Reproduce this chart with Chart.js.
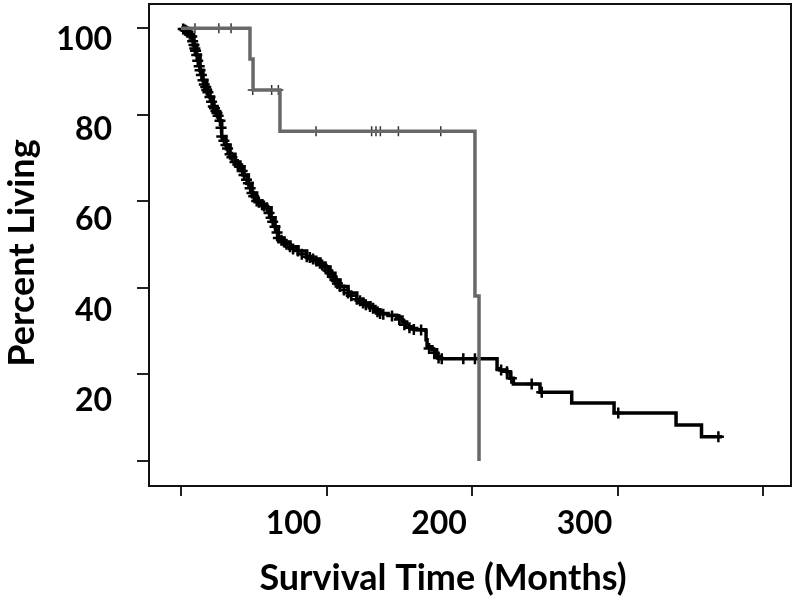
<!DOCTYPE html>
<html>
<head>
<meta charset="utf-8">
<style>
  html, body { margin: 0; padding: 0; background: #ffffff; }
  #wrap { width: 796px; height: 601px; }
</style>
<script src="https://cdn.jsdelivr.net/npm/chart.js@4.4.1/dist/chart.umd.min.js"></script>
</head>
<body>
<div id="wrap"><canvas id="c" width="796" height="601"></canvas></div>
<script>
// ---- Data (months, percent living) ----
const grayMonths  = [0, 47.4, 49.5, 68.0, 202.0, 204.8];
const grayPercent = [100, 92.9, 85.7, 76.2, 38.1, 0];

const grayCensorMonths  = [9.6, 26.0, 34.4, 49.3, 62.3, 66.9, 92.8, 131.0, 134.0, 137.0, 149.4, 178.5];
const grayCensorPercent = [100, 100, 100, 85.7, 85.7, 85.7, 76.2, 76.2, 76.2, 76.2, 76.2, 76.2];

const blackMonths = [0, 2.7, 5.0, 7.4, 8.9, 10.8, 13.1, 15.1, 17.7, 19.9,
  22.2, 24.7, 26.8, 28.0, 30.9, 33.7, 37.1, 40.5, 43.3, 46.3,
  48.8, 52.0, 55.7, 58.9, 61.9, 64.6, 66.9, 70.8, 74.9, 80.4,
  86.4, 90.7, 95.5, 99.0, 102.4, 105.8, 109.3, 114.8, 120.8, 125.1,
  129.9, 133.3, 136.8, 142.3, 148.2, 151.9, 155.1, 158.8, 162.0, 167.7,
  168.4, 169.1, 172.5, 175.7, 178.0, 217.2, 219.2, 223.9, 226.1, 228.4,
  246.7, 268.5, 297.6, 340.2, 357.7, 371.8];
const blackPercent = [100, 99.6, 99.0, 98.1, 96.1, 93.8, 90.3, 88.0, 85.7, 84.1,
  81.9, 80.4, 78.6, 75.0, 73.0, 70.9, 69.1, 68.0, 66.1, 64.2,
  61.9, 60.1, 59.2, 58.5, 56.2, 54.1, 51.5, 50.6, 49.5, 48.5,
  47.2, 46.7, 45.7, 44.8, 43.4, 41.8, 40.3, 38.8, 37.4, 36.5,
  35.7, 34.9, 34.1, 33.7, 33.3, 32.1, 31.0, 30.6, 30.3, 30.2,
  28.0, 26.4, 25.7, 24.1, 23.6, 21.3, 21.0, 20.6, 19.1, 17.8,
  15.9, 13.4, 11.1, 8.3, 5.6, 5.6];

const blackCensorMonths = [1.5, 2.7, 3.5, 4.5, 6.0, 7.4, 8.0, 8.9, 9.5, 10.0,
  10.8, 11.5, 12.5, 13.1, 14.0, 15.1, 16.0, 17.0, 17.7, 18.5,
  19.9, 21.0, 22.2, 23.0, 24.0, 24.7, 25.5, 26.8, 27.5, 28.0,
  29.5, 30.9, 32.0, 33.7, 35.0, 37.1, 39.0, 40.5, 42.0, 43.3,
  45.0, 46.3, 47.5, 48.8, 50.0, 52.0, 53.5, 55.7, 57.0, 58.9,
  60.5, 61.9, 63.0, 64.6, 66.0, 66.9, 69.0, 70.8, 72.5, 74.9,
  77.0, 80.4, 83.0, 86.4, 88.5, 90.7, 93.0, 95.5, 97.0, 99.0,
  101.0, 102.4, 104.0, 105.8, 107.5, 109.3, 112.0, 114.8, 117.0, 120.8,
  123.0, 125.1, 127.0, 129.9, 132.0, 135.0, 136.8, 139.0, 145.0, 150.0,
  153.5, 157.0, 160.0, 165.0, 170.5, 174.0, 177.0, 179.2, 194.0, 202.0,
  220.0, 224.0, 227.0, 241.0, 247.9, 300.5, 369.3];
const blackCensorPercent = [99.8, 99.6, 99.4, 99.2, 98.6, 98.1, 97.0, 96.1, 95.3, 94.8,
  93.8, 92.5, 91.2, 90.3, 89.2, 88.0, 87.0, 86.4, 85.7, 85.2,
  84.1, 83.0, 81.9, 81.5, 80.9, 80.4, 79.8, 78.6, 77.0, 75.0,
  74.0, 73.0, 72.2, 70.9, 70.2, 69.1, 68.5, 68.0, 67.0, 66.1,
  65.0, 64.2, 63.0, 61.9, 61.2, 60.1, 59.8, 59.2, 58.9, 58.5,
  57.3, 56.2, 55.3, 54.1, 52.8, 51.5, 51.0, 50.6, 50.1, 49.5,
  49.0, 48.5, 47.8, 47.2, 47.0, 46.7, 46.2, 45.7, 45.3, 44.8,
  44.0, 43.4, 42.6, 41.8, 41.0, 40.3, 39.5, 38.8, 38.2, 37.4,
  37.0, 36.5, 36.1, 35.7, 35.3, 34.5, 34.1, 33.9, 33.5, 32.7,
  31.5, 30.8, 30.4, 30.25, 26.0, 25.0, 23.8, 23.6, 23.6, 23.6,
  21.0, 20.6, 19.1, 17.8, 15.9, 11.1, 5.6];

const xTickValues = [0, 100, 200, 300, 400];
const xTickLabels = ['', '100', '200', '300', ''];
const yTickLabels = [20, 40, 60, 80, 100];
const xTitle = 'Survival Time (Months)';
const yTitle = 'Percent Living';

// ---- helpers ----
const pts = (xs, ys) => xs.map((x, i) => ({ x: x, y: ys[i] }));
const FAMILY = 'Lato, "Open Sans", sans-serif';
const TICK_FONT = { family: FAMILY, size: 32, weight: 'bold' };

const framePlugin = {
  id: 'frame',
  beforeDatasetsDraw(chart) {
    const a = chart.chartArea, ctx = chart.ctx;
    ctx.save();
    ctx.strokeStyle = '#111';
    ctx.lineWidth = 2;
    ctx.strokeRect(a.left, a.top, a.right - a.left, a.bottom - a.top);
    ctx.restore();
  }
};

// axis titles, placed relative to the chart area as in the reference
const axisTitlePlugin = {
  id: 'axisTitles',
  afterDraw(chart) {
    const a = chart.chartArea, ctx = chart.ctx;
    ctx.save();
    ctx.font = 'bold 36px ' + FAMILY;
    ctx.fillStyle = '#000';
    ctx.textAlign = 'center';
    ctx.textBaseline = 'middle';
    ctx.fillText(xTitle, (a.left + a.right) / 2 - 27, a.bottom + 92);
    ctx.translate(22, (a.top + a.bottom) / 2 + 8);
    ctx.rotate(-Math.PI / 2);
    ctx.fillText(yTitle, 0, 0);
    ctx.restore();
  }
};

new Chart(document.getElementById('c'), {
  type: 'line',
  data: {
    datasets: [
      {
        label: 'Group B',
        data: pts(grayMonths, grayPercent),
        stepped: 'before',
        borderColor: '#686868',
        borderWidth: 3.5,
        pointRadius: 0,
        fill: false,
        order: 0,
        xAxisID: 'x', yAxisID: 'y'
      },
      {
        label: 'Group B censored',
        data: pts(grayCensorMonths, grayCensorPercent),
        showLine: false,
        pointStyle: 'cross',
        pointRadius: 5,
        borderColor: '#333',
        borderWidth: 1.5,
        order: 0,
        xAxisID: 'x', yAxisID: 'y'
      },
      {
        label: 'Group A',
        data: pts(blackMonths, blackPercent),
        stepped: 'before',
        borderColor: '#000',
        borderWidth: 3.5,
        pointRadius: 0,
        fill: false,
        order: 1,
        xAxisID: 'x', yAxisID: 'y'
      },
      {
        label: 'Group A censored',
        data: pts(blackCensorMonths, blackCensorPercent),
        showLine: false,
        pointStyle: 'cross',
        pointRadius: 5.5,
        borderColor: '#000',
        borderWidth: 2.5,
        order: 1,
        xAxisID: 'x', yAxisID: 'y'
      }
    ]
  },
  options: {
    responsive: false,
    animation: false,
    events: [],
    layout: { padding: { left: 0, top: 4, right: 5, bottom: 0 }, autoPadding: false },
    plugins: { legend: { display: false }, tooltip: { enabled: false } },
    scales: {
      x: {
        type: 'linear',
        position: 'bottom',
        min: -22,
        max: 419.2,
        afterBuildTicks(s) { s.ticks = xTickValues.map(v => ({ value: v })); },
        ticks: {
          autoSkip: false,
          maxRotation: 0,
          labelOffset: -33,
          padding: 8,
          color: '#000',
          font: TICK_FONT,
          callback: (v) => xTickLabels[xTickValues.indexOf(v)]
        },
        grid: { drawOnChartArea: false, drawTicks: true, tickLength: 10, color: '#222', lineWidth: 2 },
        border: { display: true, color: '#111', width: 2 },
        title: { display: false, text: xTitle },
        afterFit(s) { s.height = 115; s.paddingLeft = 0; s.paddingRight = 0; }
      },
      y: {
        type: 'linear',
        position: 'left',
        weight: 0,
        min: -5.78,
        max: 105.6,
        ticks: { display: false, stepSize: 20, includeBounds: false },
        grid: { drawOnChartArea: false, drawTicks: true, tickLength: 12, color: '#222', lineWidth: 2 },
        border: { display: true, color: '#111', width: 2 },
        afterFit(s) { s.width = 12; s.paddingTop = 0; s.paddingBottom = 0; }
      },
      yl: {
        type: 'linear',
        axis: 'y',
        position: 'left',
        weight: 1,
        min: 1.19,
        max: 107.83,
        afterBuildTicks(s) { s.ticks = yTickLabels.map(v => ({ value: v })); },
        ticks: { padding: 25, color: '#000', font: TICK_FONT, autoSkip: false },
        grid: { display: false, drawTicks: false },
        border: { display: false },
        title: { display: false, text: yTitle },
        afterFit(s) { s.width = 137; s.paddingTop = 0; s.paddingBottom = 0; }
      }
    }
  },
  plugins: [framePlugin, axisTitlePlugin]
});
</script>
</body>
</html>
